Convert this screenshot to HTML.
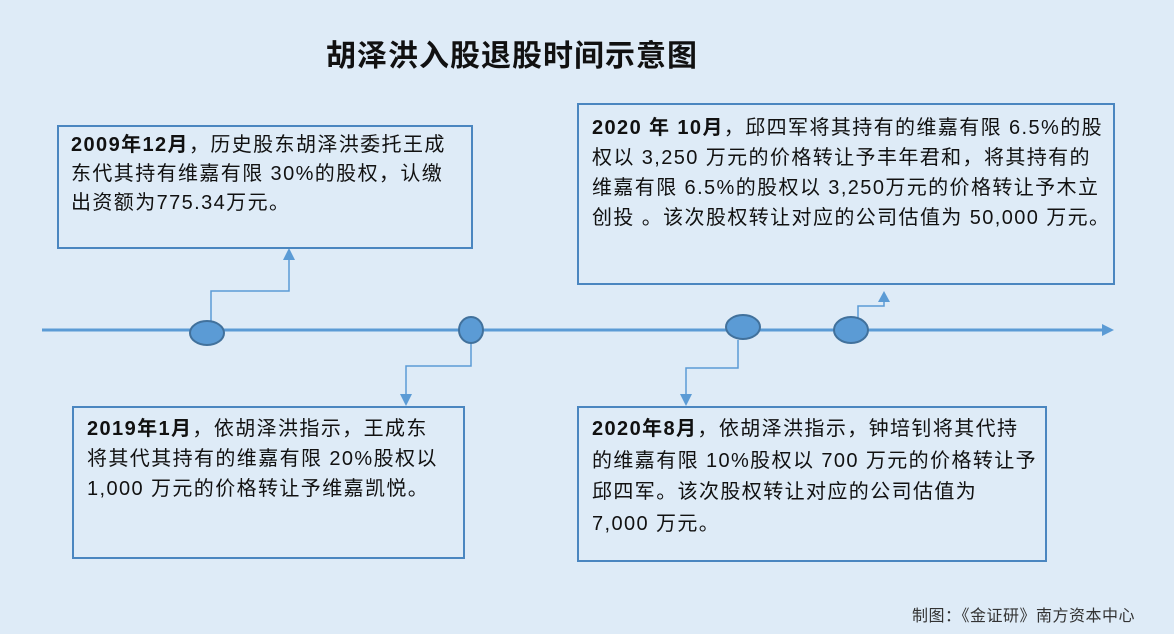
<!DOCTYPE html>
<html><head><meta charset="utf-8"><style>
body{margin:0;width:1174px;height:634px;background:#deebf7;position:relative;overflow:hidden;font-family:"Liberation Sans","Noto Sans CJK SC",sans-serif;color:#111}
.t{position:absolute;left:326px;top:31px;font-size:30px;font-weight:bold;letter-spacing:1px}
.b{position:absolute;border:2px solid #4a86c0;box-sizing:border-box;font-size:20px;line-height:30px;padding:6px 12px;white-space:nowrap;letter-spacing:1.4px}
.f{position:absolute;left:912px;top:602px;font-size:16px;color:#333;letter-spacing:0.5px}
</style></head><body>
<div class="t">胡泽洪入股退股时间示意图</div>
<svg width="1174" height="634" style="position:absolute;left:0;top:0">
<line x1="42" y1="330" x2="1105" y2="330" stroke="#5b9bd5" stroke-width="3"/>
<path d="M1102,324L1114,330L1102,336z" fill="#5b9bd5"/>
<g fill="none" stroke="#5b9bd5" stroke-width="1.5">
<path d="M211,321V291H289V258"/><path d="M471,343V366H406V396"/>
<path d="M738,340V368H686V396"/><path d="M858,318V306H884V300"/>
</g>
<g fill="#5b9bd5">
<path d="M283,260L289,248L295,260z"/><path d="M400,394L406,406L412,394z"/>
<path d="M680,394L686,406L692,394z"/><path d="M878,302L884,291L890,302z"/>
</g>
<g fill="#5b9bd5" stroke="#41719c" stroke-width="2">
<ellipse cx="207" cy="333" rx="17" ry="12"/><ellipse cx="471" cy="330" rx="12" ry="13"/>
<ellipse cx="743" cy="327" rx="17" ry="12"/><ellipse cx="851" cy="330" rx="17" ry="13"/>
</g>
</svg>
<div class="b" style="left:57px;top:125px;width:416px;height:124px;padding:4px 12px;line-height:29px"><b>2009年12月</b>，历史股东胡泽洪委托王成<br>东代其持有维嘉有限 30%的股权，认缴<br>出资额为775.34万元。</div>
<div class="b" style="left:577px;top:103px;width:538px;height:182px;padding:8px 13px"><b>2020 年 10月</b>，邱四军将其持有的维嘉有限 6.5%的股<br>权以 3,250 万元的价格转让予丰年君和，将其持有的<br>维嘉有限 6.5%的股权以 3,250万元的价格转让予木立<br>创投 。该次股权转让对应的公司估值为 50,000 万元。</div>
<div class="b" style="left:72px;top:406px;width:393px;height:153px;padding:6px 13px"><b>2019年1月</b>，依胡泽洪指示，王成东<br>将其代其持有的维嘉有限 20%股权以<br>1,000 万元的价格转让予维嘉凯悦。</div>
<div class="b" style="left:577px;top:406px;width:470px;height:156px;padding:6px 13px;line-height:31.5px"><b>2020年8月</b>，依胡泽洪指示，钟培钊将其代持<br>的维嘉有限 10%股权以 700 万元的价格转让予<br>邱四军。该次股权转让对应的公司估值为<br>7,000 万元。</div>
<div class="f">制图：《金证研》南方资本中心</div>
</body></html>
